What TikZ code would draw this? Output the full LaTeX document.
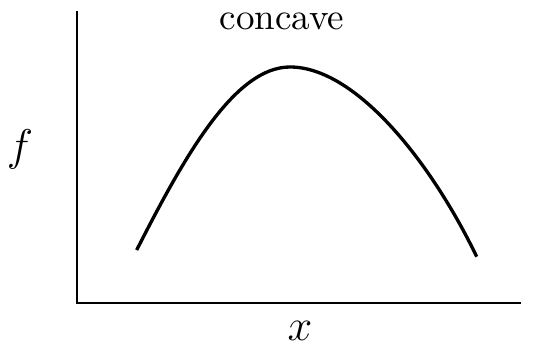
\documentclass[tikz,border=0pt]{standalone}
\begin{document}
\begin{tikzpicture}[x=0.27pt,y=-0.27pt,
  axis/.style={line width=0.7pt},
  curve/.style={line width=0.9pt},
  lbl/.style={font=\large}]
\useasboundingbox (0,0) rectangle (537,345);
\coordinate (top) at (77,11);
\coordinate (origin) at (77,303);
\coordinate (right) at (521,303);
\draw[axis] (top) -- (origin) -- (right);
\node (title) at (282,21) {concave};
\node[lbl] (flabel) at (20,149) {$f$};
\node[lbl] (xlabel) at (300,331) {$x$};
\coordinate (c0) at (136.7,250);
\coordinate (peak) at (290,67);
\coordinate (c1) at (476.7,256.7);
\draw[curve] (c0) .. controls (185,155) and (235,67) .. (peak)
  .. controls (355,67) and (430,160) .. (c1);
\end{tikzpicture}
\end{document}
